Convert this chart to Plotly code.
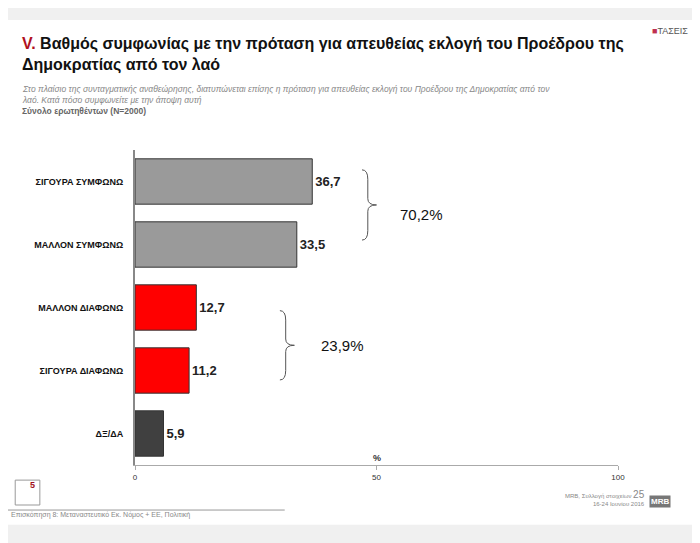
import plotly.graph_objects as go

categories = ["ΣΙΓΟΥΡΑ ΣΥΜΦΩΝΩ", "ΜΑΛΛΟΝ ΣΥΜΦΩΝΩ", "ΜΑΛΛΟΝ ΔΙΑΦΩΝΩ", "ΣΙΓΟΥΡΑ ΔΙΑΦΩΝΩ", "ΔΞ/ΔΑ"]
values = [36.7, 33.5, 12.7, 11.2, 5.9]
bar_colors = ["#9a9a9a", "#9a9a9a", "#ff0000", "#ff0000", "#404040"]
group_totals = ["70,2%", "23,9%"]

fig = go.Figure()
fig.add_trace(go.Bar(
    y=categories, x=values, orientation="h",
    marker=dict(color=bar_colors, line=dict(color="#333333", width=1)),
    width=0.72,
    text=[f"<b>{v:.1f}</b>".replace(".", ",") for v in values],
    textposition="outside", cliponaxis=False,
    textfont=dict(family="Arial", size=13, color="#222222"),
))

# page body adds ~8px offset, so margins are shifted to compensate
fig.update_layout(
    width=700, height=543,
    paper_bgcolor="#f0f0f0", plot_bgcolor="white",
    margin=dict(l=127, r=90, t=142, b=86),
    showlegend=False, bargap=0.25,
    font=dict(family="Arial"),
    xaxis=dict(range=[0, 100], tickvals=[0, 50, 100], showgrid=False, zeroline=False,
               showline=True, linecolor="#aaaaaa", ticks="outside", ticklen=4,
               tickcolor="#aaaaaa", tickfont=dict(size=8, color="#333333")),
    yaxis=dict(autorange="reversed", showgrid=False, showline=True, linecolor="#888888",
               linewidth=2, ticks="", ticklabelstandoff=8,
               tickvals=categories, ticktext=[f"<b>{c}</b>" for c in categories],
               tickfont=dict(size=9, color="#111111")),
)

# white slide background
fig.add_shape(type="rect", xref="paper", yref="paper", x0=-0.269, x1=1.159, y0=-0.19, y1=1.413,
              fillcolor="white", line=dict(width=0), layer="below")
fig.add_shape(type="line", xref="paper", yref="paper", x0=-0.27, x1=0.31, y0=-0.143, y1=-0.143,
              line=dict(color="#999999", width=1))
fig.add_shape(type="rect", xref="paper", yref="paper", x0=-0.248, x1=-0.197, y0=-0.127, y1=-0.048,
              line=dict(color="#999999", width=1))

# brackets
def bracket(y_top, y_bot, x):
    ym = (y_top + y_bot) / 2
    return (f"M {x},{y_top} Q {x+0.012},{y_top} {x+0.012},{y_top-0.03} "
            f"L {x+0.012},{ym+0.02} Q {x+0.012},{ym} {x+0.03},{ym} "
            f"Q {x+0.012},{ym} {x+0.012},{ym-0.02} "
            f"L {x+0.012},{y_bot+0.03} Q {x+0.012},{y_bot} {x},{y_bot}")

fig.add_shape(type="path", xref="paper", yref="paper", path=bracket(0.937, 0.714, 0.47),
              line=dict(color="#555555", width=1))
fig.add_shape(type="path", xref="paper", yref="paper", path=bracket(0.49, 0.27, 0.30),
              line=dict(color="#555555", width=1))
fig.add_annotation(xref="paper", yref="paper", x=0.545, y=0.83, text=group_totals[0],
                   showarrow=False, xanchor="left", font=dict(size=15, color="#111111"))
fig.add_annotation(xref="paper", yref="paper", x=0.38, y=0.38, text=group_totals[1],
                   showarrow=False, xanchor="left", font=dict(size=15, color="#111111"))

fig.add_annotation(xref="paper", yref="paper", x=0.5, y=0.0, text="<b>%</b>", showarrow=False,
                   yanchor="bottom", font=dict(size=9, color="#333333"))

# titles
fig.add_annotation(xref="paper", yref="paper", x=-0.238, y=1.37, xanchor="left", yanchor="top",
                   align="left", showarrow=False,
                   text="<b><span style='color:#b01020'>V.</span> Βαθμός συμφωνίας με την πρόταση για απευθείας εκλογή του Προέδρου της<br>Δημοκρατίας από τον λαό</b>",
                   font=dict(size=16, color="#111111"))
fig.add_annotation(xref="paper", yref="paper", x=-0.238, y=1.215, xanchor="left", yanchor="top",
                   align="left", showarrow=False,
                   text="<i>Στο πλαίσιο της συνταγματικής αναθεώρησης, διατυπώνεται επίσης η πρόταση για απευθείας εκλογή του Προέδρου της Δημοκρατίας από τον<br>λαό. Κατά πόσο συμφωνείτε με την άποψη αυτή</i>",
                   font=dict(size=8.5, color="#888888"))
fig.add_annotation(xref="paper", yref="paper", x=-0.238, y=1.145, xanchor="left", yanchor="top",
                   showarrow=False, text="<b>Σύνολο ερωτηθέντων (N=2000)</b>",
                   font=dict(size=8.5, color="#666666"))
fig.add_annotation(xref="paper", yref="paper", x=1.107, y=1.4, xanchor="center", yanchor="top",
                   showarrow=False, text="<span style='color:#c03050'>■</span>ΤΑΣΕΙΣ",
                   font=dict(size=9, color="#555555"))

# footer
fig.add_annotation(xref="paper", yref="paper", x=-0.2225, y=-0.087, showarrow=False,
                   text="<b>5</b>", font=dict(size=9, color="#a01020"))
fig.add_annotation(xref="paper", yref="paper", x=-0.26, y=-0.178, xanchor="left", showarrow=False,
                   text="Επισκόπηση 8: Μεταναστευτικό Εκ. Νόμος + ΕΕ, Πολιτική",
                   font=dict(size=7, color="#888888"))
fig.add_annotation(xref="paper", yref="paper", x=1.06, y=-0.14, xanchor="right", showarrow=False,
                   align="right", text="MRB, Συλλογή στοιχείων <span style='font-size:10px'>25</span><br>16-24 Ιουνίου 2016",
                   font=dict(size=6, color="#888888"))
fig.add_annotation(xref="paper", yref="paper", x=1.11, y=-0.135, showarrow=False,
                   text="<b>MRB</b>", bgcolor="#777777", font=dict(size=8, color="white"))

fig.write_html("out.html")
